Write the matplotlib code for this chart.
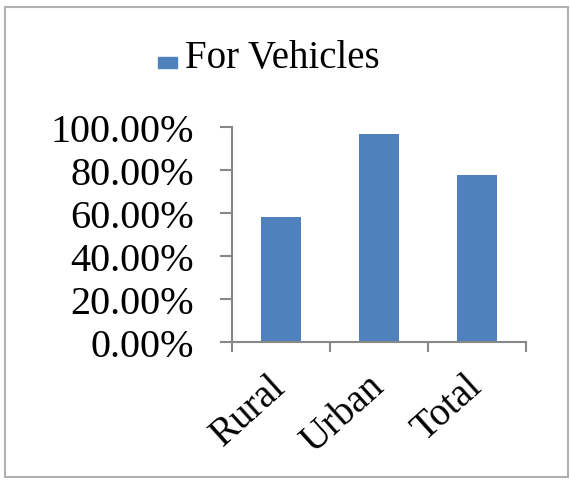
import matplotlib.pyplot as plt
from matplotlib.patches import Rectangle
from matplotlib.ticker import FuncFormatter

categories = ["Rural", "Urban", "Total"]
for_vehicles = [0.58, 0.965, 0.777]
y_ticks = [0.0, 0.2, 0.4, 0.6, 0.8, 1.0]
series_name = "For Vehicles"

plt.rcParams["font.family"] = ["Liberation Serif", "DejaVu Serif"]

if __name__ == '__main__':
    W, H = 570, 481
    fig = plt.figure(figsize=(W / 100, H / 100), dpi=100)
    ax = fig.add_axes([0.407, 0.287, 0.516, 0.447])

    bar_color = "#4F81BD"
    x = range(len(categories))
    ax.bar(x, for_vehicles, width=0.4, color=bar_color)

    axis_color = "#888888"
    ax.set_xlim(-0.5, len(categories) - 0.5)
    ax.set_ylim(0, 1)
    ax.set_yticks(y_ticks)
    ax.yaxis.set_major_formatter(FuncFormatter(lambda v, p: "{:.2f}%".format(v * 100)))
    ax.tick_params(axis="y", direction="out", length=8.6, width=1.5, color=axis_color,
                   labelsize=29, pad=19)

    # category labels at the centres, tick marks at the boundaries
    ax.set_xticks(list(x))
    ax.set_xticklabels(categories, rotation=42, ha="right", va="center",
                       rotation_mode="anchor", fontsize=28)
    ax.tick_params(axis="x", which="major", length=0, pad=28)
    ax.set_xticks([i - 0.5 for i in range(len(categories) + 1)], minor=True)
    ax.tick_params(axis="x", which="minor", direction="out", length=7.5, width=1.5,
                   color=axis_color)

    for side in ["top", "right"]:
        ax.spines[side].set_visible(False)
    for side in ["left", "bottom"]:
        ax.spines[side].set_color(axis_color)
        ax.spines[side].set_linewidth(1.5)

    # legend (small flat key like Excel's)
    fig.patches.append(Rectangle((158 / W, 1 - 69 / H), 19 / W, 11 / H,
                                 transform=fig.transFigure, color=bar_color))
    fig.text(185 / W, 1 - 68 / H, series_name, fontsize=28, va="baseline", ha="left")

    # outer chart border
    fig.patches.append(Rectangle((5 / W, 3 / H), 563 / W, 470 / H,
                                 transform=fig.transFigure, fill=False,
                                 edgecolor="#b0b0b0", linewidth=1.5))

    plt.savefig("out.png", dpi=100)
